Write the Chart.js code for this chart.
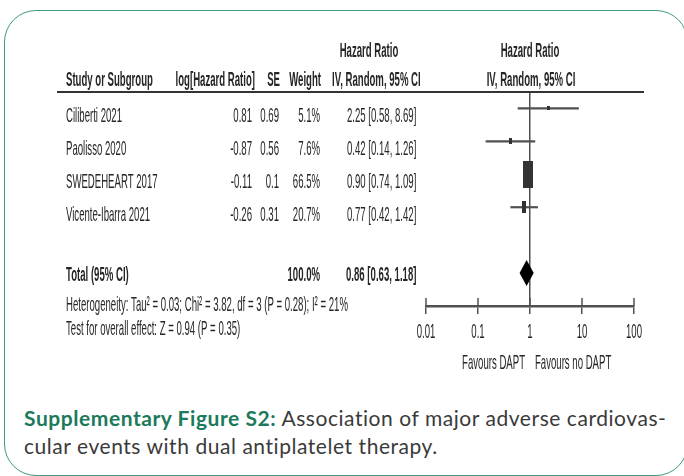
<!DOCTYPE html>
<html>
<head>
<meta charset="utf-8">
<script src="https://cdn.jsdelivr.net/npm/chart.js@4.4.1/dist/chart.umd.min.js"></script>
<style>
  html, body { margin: 0; padding: 0; background: #fff; width: 684px; height: 476px; overflow: hidden; }
  .frame { position: absolute; left: 4px; top: 10px; width: 684px; height: 466px; box-sizing: border-box;
           border: 1.5px solid #3f9b80; border-radius: 32px; }
  #forest { position: absolute; left: 0; top: 0; }
  .caption { position: absolute; left: 24px; top: 404px; font-family: Lato, "Open Sans", sans-serif;
             font-size: 21px; letter-spacing: 0.55px; line-height: 28px; color: #3a3a3a; white-space: nowrap; }
  .caption b { color: #1b7a5b; }
</style>
</head>
<body>
<div class="frame"></div>
<canvas id="forest" width="684" height="400"></canvas>
<div class="caption"><b>Supplementary Figure S2:</b> Association of major adverse cardiovas-<br>cular events with dual antiplatelet therapy.</div>
<script>
// Study-level results (random-effects, inverse variance)
const studies   = ['Ciliberti 2021', 'Paolisso 2020', 'SWEDEHEART 2017', 'Vicente-Ibarra 2021'];
const logHR     = ['0.81', '-0.87', '-0.11', '-0.26'];
const seLogHR   = ['0.69', '0.56', '0.1', '0.31'];
const weightPct = [5.1, 7.6, 66.5, 20.7];
const hazard    = [2.25, 0.42, 0.90, 0.77];
const ciLow     = [0.58, 0.14, 0.74, 0.42];
const ciHigh    = [8.69, 1.26, 1.09, 1.42];

// Pooled estimate
const totalHR = 0.86, totalLow = 0.63, totalHigh = 1.18, totalWeight = 100.0;

// Axis
const axisTicks = [0.01, 0.1, 1, 10, 100];
const axisTickLabels = ['0.01', '0.1', '1', '10', '100'];

const studyRows = studies.map((_, i) => i + 1);
const totalRow = 6;

const INK = '#262626';
const LINE = '#505050';
const FONT_PX = 21;
const SX = 0.457;   // condensed table lettering

function fmtCI(h, lo, hi) {
  return h.toFixed(2) + ' [' + lo.toFixed(2) + ', ' + hi.toFixed(2) + ']';
}

// rectangular marker whose size grows with the study weight
function weightBox(w) {
  const h = Math.max(4, Math.round(27 * Math.pow(w / 66.5, 0.7)));
  const wd = Math.max(3, Math.round(h * 0.37));
  const c = document.createElement('canvas');
  c.width = wd; c.height = h;
  const g = c.getContext('2d');
  g.fillStyle = '#333';
  g.fillRect(0, 0, wd, h);
  return c;
}

function text(ctx, s, x, y, align, bold) {
  ctx.save();
  ctx.font = (bold ? 'bold ' : '') + FONT_PX + 'px "Liberation Sans", Arial, sans-serif';
  ctx.fillStyle = INK;
  ctx.textBaseline = 'middle';
  ctx.textAlign = align;
  ctx.translate(x, y);
  ctx.scale(SX, 1);
  ctx.fillText(s, 0, 0);
  ctx.restore();
}

const tablePlugin = {
  id: 'forestTable',
  afterDraw(chart) {
    const ctx = chart.ctx;
    const xs = chart.scales.x, ys = chart.scales.y;
    const X = v => xs.getPixelForValue(v);
    const Y = v => ys.getPixelForValue(v);
    const axisY = chart.chartArea.bottom;

    // column headers
    text(ctx, 'Hazard Ratio', 369, 51, 'center', true);
    text(ctx, 'Hazard Ratio', X(1), 51, 'center', true);
    text(ctx, 'Study or Subgroup', 66, 80, 'left', true);
    text(ctx, 'log[Hazard Ratio]', 255, 80, 'right', true);
    text(ctx, 'SE', 280, 80, 'right', true);
    text(ctx, 'Weight', 321, 80, 'right', true);
    text(ctx, 'IV, Random, 95% CI', 332, 80, 'left', true);
    text(ctx, 'IV, Random, 95% CI', X(1) + 1, 80, 'center', true);

    ctx.save();
    ctx.strokeStyle = '#333';
    ctx.lineWidth = 2;
    ctx.beginPath();
    ctx.moveTo(57, chart.chartArea.top);
    ctx.lineTo(644, chart.chartArea.top);
    ctx.stroke();
    ctx.restore();

    // study rows
    studies.forEach((s, i) => {
      const y = Y(studyRows[i]) + 8;
      text(ctx, s, 66, y, 'left');
      text(ctx, logHR[i], 252, y, 'right');
      text(ctx, seLogHR[i], 279, y, 'right');
      text(ctx, weightPct[i].toFixed(1) + '%', 320, y, 'right');
      text(ctx, fmtCI(hazard[i], ciLow[i], ciHigh[i]), 347, y, 'left');
    });

    // pooled row
    const ty = Y(totalRow) + 2;
    text(ctx, 'Total (95% CI)', 66, ty, 'left', true);
    text(ctx, totalWeight.toFixed(1) + '%', 320, ty, 'right', true);
    text(ctx, fmtCI(totalHR, totalLow, totalHigh), 346, ty, 'left', true);
    text(ctx, 'Heterogeneity: Tau\u00b2 = 0.03; Chi\u00b2 = 3.82, df = 3 (P = 0.28); I\u00b2 = 21%', 66, axisY - 1, 'left');
    text(ctx, 'Test for overall effect: Z = 0.94 (P = 0.35)', 66, axisY + 23, 'left');

    // pooled diamond
    ctx.save();
    ctx.fillStyle = '#000';
    ctx.beginPath();
    ctx.moveTo(X(totalLow), Y(totalRow));
    ctx.lineTo(X(totalHR), Y(totalRow) - 13);
    ctx.lineTo(X(totalHigh), Y(totalRow));
    ctx.lineTo(X(totalHR), Y(totalRow) + 13);
    ctx.closePath();
    ctx.fill();

    // tick marks above the axis line
    ctx.strokeStyle = LINE;
    ctx.lineWidth = 1.5;
    axisTicks.forEach(v => {
      ctx.beginPath();
      ctx.moveTo(X(v), axisY - 8);
      ctx.lineTo(X(v), axisY);
      ctx.stroke();
    });
    ctx.restore();

    // tick labels and direction labels
    axisTicks.forEach((v, i) => text(ctx, axisTickLabels[i], X(v), axisY + 26, 'center'));
    text(ctx, 'Favours DAPT', X(1) - 5, axisY + 57, 'right');
    text(ctx, 'Favours no DAPT', X(1) + 5, axisY + 57, 'left');
  }
};

const datasets = [
  {
    label: 'Study estimate',
    data: hazard.map((h, i) => ({ x: h, y: studyRows[i] })),
    pointStyle: weightPct.map(weightBox),
    pointRadius: 4,
    showLine: false
  },
  ...studies.map((s, i) => ({
    label: s,
    data: [{ x: ciLow[i], y: studyRows[i] }, { x: ciHigh[i], y: studyRows[i] }],
    showLine: true,
    borderColor: LINE,
    borderWidth: 2.2,
    pointRadius: 0
  }))
];

new Chart(document.getElementById('forest'), {
  type: 'scatter',
  data: { datasets },
  options: {
    responsive: false,
    animation: false,
    layout: { padding: { left: 426, right: 50, top: 92, bottom: 54 } },
    plugins: { legend: { display: false }, tooltip: { enabled: false } },
    scales: {
      x: {
        type: 'logarithmic',
        min: 0.01,
        max: 100,
        afterBuildTicks: s => { s.ticks = axisTicks.map(v => ({ value: v })); },
        afterFit: s => { s.height = 40; },
        ticks: { display: false },
        grid: {
          drawOnChartArea: true,
          color: c => (c.tick && c.tick.value === 1) ? LINE : 'rgba(0,0,0,0)',
          lineWidth: 1.5,
          tickColor: LINE,
          tickLength: 8,
          tickWidth: 1.5
        },
        border: { display: true, color: LINE, width: 2.5 }
      },
      y: { type: 'linear', reverse: true, min: 0.5, max: 7, display: false }
    }
  },
  plugins: [tablePlugin]
});
</script>
</body>
</html>
